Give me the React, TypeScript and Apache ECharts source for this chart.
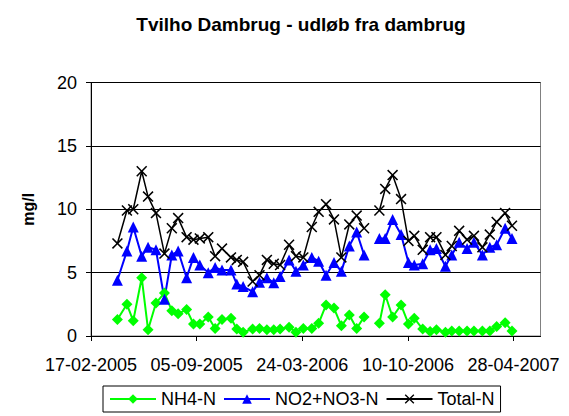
import React, { useEffect, useRef } from "react";
import * as echarts from "echarts";

// Sampling dates (an empty sample on 2006-08-02 breaks the lines)
const dates = [
  "2005-04-08", "2005-04-26", "2005-05-08", "2005-05-24", "2005-06-05", "2005-06-20",
  "2005-07-06", "2005-07-20", "2005-08-01", "2005-08-17", "2005-08-30", "2005-09-11",
  "2005-09-27", "2005-10-10", "2005-10-23", "2005-11-09", "2005-11-20", "2005-12-02",
  "2005-12-20", "2006-01-02", "2006-01-16", "2006-01-29", "2006-02-10", "2006-02-27",
  "2006-03-12", "2006-03-26", "2006-04-11", "2006-04-24", "2006-05-08", "2006-05-23",
  "2006-06-06", "2006-06-21", "2006-07-05", "2006-07-19", "2006-08-02", "2006-08-17",
  "2006-08-28", "2006-09-11", "2006-09-27", "2006-10-11", "2006-10-22", "2006-11-07",
  "2006-11-21", "2006-12-03", "2006-12-20", "2007-01-01", "2007-01-15", "2007-01-30",
  "2007-02-12", "2007-02-28", "2007-03-14", "2007-03-27", "2007-04-12", "2007-04-25",
];

const nh4N = [
  1.3, 2.5, 1.2, 4.6, 0.5, 2.6, 3.4, 2.0, 1.75, 2.1, 0.95, 0.95,
  1.5, 0.6, 1.3, 1.4, 0.55, 0.3, 0.55, 0.6, 0.5, 0.5, 0.55, 0.7,
  0.3, 0.6, 0.6, 1.0, 2.45, 2.2, 0.8, 1.65, 0.6, 1.5, null, 1.0,
  3.25, 1.5, 2.45, 0.95, 1.4, 0.55, 0.35, 0.5, 0.3, 0.4, 0.4, 0.4,
  0.4, 0.4, 0.4, 0.75, 1.05, 0.4,
];

const no2no3N = [
  4.4, 6.7, 8.6, 6.3, 7.0, 6.8, 2.9, 6.4, 6.7, 4.6, 6.2, 5.6,
  5.0, 5.4, 5.2, 5.2, 4.1, 3.9, 3.5, 4.25, 4.6, 4.2, 4.7, 6.0,
  5.1, 5.6, 6.2, 5.9, 4.8, 5.8, 5.1, 7.1, 8.2, 6.4, null, 7.7,
  7.7, 9.2, 8.0, 5.8, 5.6, 5.7, 6.8, 6.9, 5.5, 6.4, 7.4, 6.9,
  7.4, 6.4, 7.0, 7.2, 8.5, 7.7,
];

const totalN = [
  7.3, 9.9, 10.0, 13.0, 11.0, 9.7, 6.5, 8.5, 9.3, 7.8, 7.6, 7.7,
  7.8, 6.3, 6.9, 6.2, 6.0, 5.85, 4.3, 4.8, 6.0, 5.7, 5.6, 7.2,
  6.3, 6.2, 8.6, 9.8, 10.4, 9.2, 6.2, 8.8, 9.5, 8.5, null, 9.9,
  11.6, 12.7, 10.8, 7.5, 7.9, 6.8, 7.8, 7.8, 6.4, 7.1, 8.3, 7.6,
  7.9, 7.0, 8.0, 9.0, 9.7, 8.7,
];

const seriesNames = ["NH4-N", "NO2+NO3-N", "Total-N"];
const axisStartDate = "2005-02-17";
const tickStepDays = 200;
const axisSpanDays = 851;
const yTicks = [0, 5, 10, 15, 20];

const DAY = 86400000;
const parse = (s: string) => {
  const [y, m, d] = s.split("-").map(Number);
  return Date.UTC(y, m - 1, d);
};
const BASE = parse(axisStartDate);
const toDay = (s: string) => Math.round((parse(s) - BASE) / DAY);
const pad = (n: number) => (n < 10 ? "0" + n : "" + n);
const fmt = (v: number) => {
  const dt = new Date(BASE + v * DAY);
  return `${pad(dt.getUTCDate())}-${pad(dt.getUTCMonth() + 1)}-${dt.getUTCFullYear()}`;
};
const pairs = (vals: (number | null)[]) =>
  dates.map((d, i) => [toDay(d), vals[i] === null ? "-" : vals[i]]);

const FONT = "'Liberation Sans', Arial, sans-serif";
const X_SYMBOL = "path://M0,1L1,0L5,4L9,0L10,1L6,5L10,9L9,10L5,6L1,10L0,9L4,5Z";

export default function App() {
  const ref = useRef<HTMLDivElement>(null);
  useEffect(() => {
    if (!ref.current) return;
    const chart = echarts.init(ref.current, undefined, { renderer: "svg" });
    chart.setOption({
      animation: false,
      backgroundColor: "#ffffff",
      textStyle: { fontFamily: FONT },
      title: {
        text: "Tvilho Dambrug - udløb fra dambrug",
        left: 296,
        textAlign: "center",
        top: 10,
        textStyle: { fontFamily: FONT, fontSize: 19, fontWeight: "bold", color: "#000" },
      },
      legend: {
        data: seriesNames,
        left: 103,
        top: 386,
        padding: [4, 6, 4, 6],
        itemGap: 7,
        itemWidth: 46,
        itemHeight: 12,
        borderColor: "#000",
        borderWidth: 1,
        textStyle: { fontFamily: FONT, fontSize: 18, color: "#000" },
      },
      grid: {
        left: 91,
        right: 28.5,
        top: 82.5,
        bottom: 80,
        show: true,
        borderColor: "#808080",
        borderWidth: 1,
        backgroundColor: "transparent",
      },
      xAxis: {
        type: "value",
        min: 0,
        max: axisSpanDays,
        interval: tickStepDays,
        axisLine: { show: true, onZero: false, lineStyle: { color: "#000", width: 1 } },
        axisTick: { show: true, length: 5, inside: false, lineStyle: { color: "#000" } },
        splitLine: { show: false },
        axisLabel: {
          showMaxLabel: false,
          margin: 20,
          fontFamily: FONT,
          fontSize: 18,
          color: "#000",
          formatter: (v: number) => (v % tickStepDays === 0 ? fmt(v) : ""),
        },
      },
      yAxis: {
        type: "value",
        min: yTicks[0],
        max: yTicks[yTicks.length - 1],
        interval: 5,
        name: "mg/l",
        nameLocation: "middle",
        nameGap: 55,
        nameTextStyle: { fontFamily: FONT, fontSize: 16, fontWeight: "bold", color: "#000" },
        axisLine: { show: true, lineStyle: { color: "#000", width: 1 } },
        axisTick: { show: true, length: 5, inside: false, lineStyle: { color: "#000" } },
        splitLine: { show: true, lineStyle: { color: "#000", width: 1 } },
        axisLabel: { margin: 14, fontFamily: FONT, fontSize: 18, color: "#000" },
      },
      series: [
        {
          name: seriesNames[0],
          type: "line",
          data: pairs(nh4N),
          connectNulls: false,
          symbol: "diamond",
          symbolSize: 11,
          lineStyle: { color: "#00ff00", width: 2 },
          itemStyle: { color: "#00ff00" },
        },
        {
          name: seriesNames[1],
          type: "line",
          data: pairs(no2no3N),
          connectNulls: false,
          symbol: "triangle",
          symbolSize: 11,
          lineStyle: { color: "#0000ff", width: 2 },
          itemStyle: { color: "#0000ff" },
        },
        {
          name: seriesNames[2],
          type: "line",
          data: pairs(totalN),
          connectNulls: false,
          symbol: X_SYMBOL,
          symbolSize: 11,
          lineStyle: { color: "#000000", width: 1.5 },
          itemStyle: { color: "#000000" },
        },
      ],
    });
    return () => chart.dispose();
  }, []);
  return <div ref={ref} style={{ width: 569, height: 416, position: "absolute", left: 0, top: 0 }} />;
}
